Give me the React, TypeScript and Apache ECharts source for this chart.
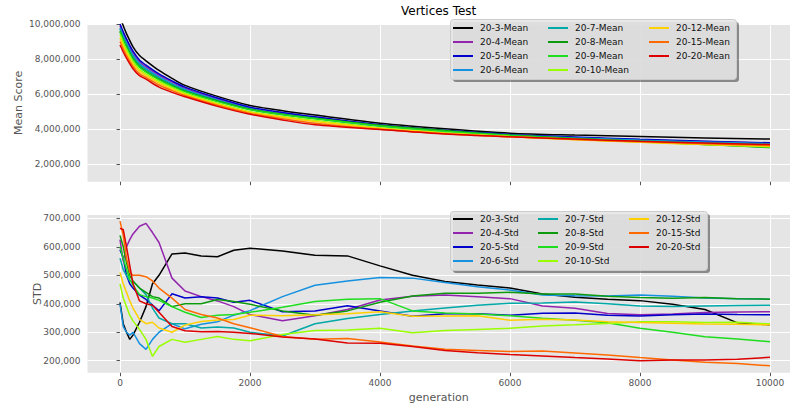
import React, { useEffect, useRef } from "react";
import * as echarts from "echarts";

const seriesKeys = ["20-3", "20-4", "20-5", "20-6", "20-7", "20-8", "20-9", "20-10", "20-12", "20-15", "20-20"];
const seriesColors = ["#000000", "#9224ae", "#0000cc", "#1591e0", "#00a8a8", "#0d9a0d", "#1edd1e", "#99ff00", "#ffd000", "#ff6a00", "#dd0000"];

const xTicks = [0, 2000, 4000, 6000, 8000, 10000];
const meanTicks = [2000000, 4000000, 6000000, 8000000, 10000000];
const stdTicks = [200000, 300000, 400000, 500000, 600000, 700000];

// Mean score (millions)
const meanGens = [0, 50, 100, 200, 300, 400, 600, 800, 1000, 1500, 2000, 2500, 3000, 4000, 5000, 6000, 7000, 8000, 9000, 10000];
const mean20_3 = [10.4, 9.9, 9.45, 8.7, 8.2, 7.9, 7.35, 6.9, 6.5, 5.87, 5.35, 5.05, 4.8, 4.34, 4.02, 3.77, 3.66, 3.58, 3.5, 3.43];
const mean20_4 = [9.9, 9.45, 9.05, 8.35, 7.85, 7.55, 7.07, 6.68, 6.33, 5.72, 5.2, 4.9, 4.66, 4.22, 3.9, 3.68, 3.52, 3.39, 3.29, 3.2];
const mean20_5 = [10.0, 9.55, 9.15, 8.45, 7.95, 7.65, 7.15, 6.75, 6.4, 5.78, 5.25, 4.95, 4.7, 4.25, 3.93, 3.7, 3.55, 3.42, 3.31, 3.22];
const mean20_6 = [9.78, 9.32, 8.92, 8.22, 7.74, 7.45, 6.98, 6.6, 6.26, 5.66, 5.16, 4.86, 4.62, 4.19, 3.87, 3.66, 3.5, 3.37, 3.26, 3.17];
const mean20_7 = [9.72, 9.25, 8.85, 8.15, 7.68, 7.4, 6.93, 6.55, 6.22, 5.63, 5.13, 4.83, 4.6, 4.17, 3.85, 3.64, 3.48, 3.35, 3.23, 3.14];
const mean20_8 = [9.6, 9.12, 8.72, 8.03, 7.58, 7.3, 6.85, 6.48, 6.16, 5.6, 5.14, 4.85, 4.62, 4.22, 3.92, 3.66, 3.47, 3.3, 3.12, 2.95];
const mean20_9 = [9.55, 9.07, 8.67, 7.98, 7.53, 7.26, 6.81, 6.45, 6.13, 5.57, 5.11, 4.82, 4.59, 4.18, 3.88, 3.63, 3.45, 3.3, 3.13, 2.97];
const mean20_10 = [9.4, 8.92, 8.52, 7.85, 7.4, 7.15, 6.72, 6.37, 6.05, 5.48, 5.0, 4.72, 4.5, 4.08, 3.8, 3.58, 3.42, 3.26, 3.12, 3.0];
const mean20_12 = [9.2, 8.75, 8.36, 7.72, 7.3, 7.05, 6.63, 6.28, 5.98, 5.42, 4.96, 4.68, 4.44, 4.05, 3.77, 3.56, 3.4, 3.25, 3.13, 3.03];
const mean20_15 = [9.0, 8.58, 8.2, 7.58, 7.17, 6.95, 6.52, 6.2, 5.92, 5.36, 4.9, 4.6, 4.34, 4.0, 3.74, 3.57, 3.41, 3.28, 3.16, 3.07];
const mean20_20 = [8.8, 8.4, 8.05, 7.45, 7.05, 6.85, 6.4, 6.1, 5.85, 5.3, 4.85, 4.52, 4.25, 3.98, 3.72, 3.56, 3.43, 3.31, 3.21, 3.12];

// STD (thousands)
const stdGens = [0, 50, 100, 150, 200, 300, 400, 500, 600, 800, 1000, 1250, 1500, 1750, 2000, 2500, 3000, 3500, 4000, 4500, 5000, 5500, 6000, 6500, 7000, 7500, 8000, 8500, 9000, 9500, 10000];
const std20_3 = [405, 330, 300, 275, 290, 335, 390, 470, 500, 575, 578, 568, 565, 588, 595, 585, 570, 568, 533, 500, 478, 466, 455, 434, 423, 416, 411, 398, 380, 333, 326];
const std20_4 = [625, 550, 600, 625, 645, 672, 682, 650, 615, 490, 445, 425, 410, 390, 362, 340, 358, 380, 413, 426, 431, 425, 418, 392, 384, 366, 361, 364, 369, 371, 372];
const std20_5 = [590, 560, 500, 470, 455, 430, 415, 395, 375, 435, 420, 425, 420, 405, 412, 372, 375, 393, 375, 356, 365, 365, 360, 367, 368, 360, 357, 361, 364, 362, 361];
const std20_6 = [400, 320, 300, 290, 300, 260, 240, 275, 300, 330, 312, 328, 337, 360, 376, 425, 465, 480, 492, 490, 475, 460, 448, 431, 428, 427, 431, 426, 420, 418, 416];
const std20_7 = [560, 520, 500, 480, 478, 455, 432, 385, 350, 330, 330, 315, 318, 315, 300, 287, 330, 348, 362, 375, 385, 395, 402, 403, 406, 400, 392, 390, 392, 394, 395];
const std20_8 = [640, 600, 545, 500, 480, 455, 440, 425, 420, 390, 400, 400, 415, 408, 398, 375, 360, 375, 405, 427, 437, 437, 440, 434, 434, 426, 422, 419, 422, 418, 416];
const std20_9 = [600, 560, 520, 485, 465, 432, 425, 420, 412, 390, 370, 352, 360, 362, 370, 388, 408, 416, 418, 375, 368, 364, 358, 349, 342, 333, 314, 300, 284, 276, 267];
const std20_10 = [470, 420, 390, 360, 340, 310, 275, 215, 250, 275, 265, 275, 285, 275, 270, 292, 306, 308, 314, 298, 306, 310, 314, 322, 326, 331, 337, 337, 334, 335, 329];
const std20_12 = [510, 470, 440, 410, 385, 345, 330, 335, 315, 300, 325, 338, 343, 345, 360, 358, 361, 365, 372, 356, 357, 358, 342, 346, 343, 337, 334, 332, 329, 328, 326];
const std20_15 = [690, 640, 560, 510, 500, 500, 495, 480, 455, 420, 380, 362, 350, 330, 316, 285, 275, 278, 266, 252, 240, 236, 232, 234, 227, 220, 211, 203, 195, 190, 182];
const std20_20 = [665, 660, 600, 535, 470, 410, 400, 395, 370, 320, 305, 302, 303, 300, 296, 283, 276, 262, 261, 250, 236, 228, 222, 217, 211, 206, 200, 203, 203, 205, 212];

const meanSets = [mean20_3, mean20_4, mean20_5, mean20_6, mean20_7, mean20_8, mean20_9, mean20_10, mean20_12, mean20_15, mean20_20];
const stdSets = [std20_3, std20_4, std20_5, std20_6, std20_7, std20_8, std20_9, std20_10, std20_12, std20_15, std20_20];

const FONT = "DejaVu Sans";
const fmt = (v: number) => Math.round(v).toLocaleString("en-US");

function xAxisCfg(gridIndex: number, showLabels: boolean, name: string) {
  return {
    type: "value",
    gridIndex,
    min: -500,
    max: 10308,
    name,
    nameLocation: "middle",
    nameGap: 19,
    nameMoveOverlap: false,
    nameTextStyle: { color: "#555555", fontSize: 11, fontFamily: FONT },
    axisLine: { show: false },
    axisTick: { show: true, length: 3.5, lineStyle: { color: "#555555" }, customValues: xTicks },
    axisLabel: { show: showLabels, customValues: xTicks, color: "#555555", fontSize: 9, fontFamily: FONT, margin: 6, formatter: (v: number) => String(v) },
    splitLine: { show: true, lineStyle: { color: "#ffffff", width: 1 } },
  };
}

function yAxisCfg(gridIndex: number, min: number, max: number, ticks: number[], name: string, gap: number) {
  return {
    type: "value",
    gridIndex,
    min,
    max,
    name,
    nameLocation: "middle",
    nameGap: gap,
    nameMoveOverlap: false,
    nameTextStyle: { color: "#555555", fontSize: 11, fontFamily: FONT },
    axisLine: { show: false },
    axisTick: { show: true, length: 3.5, lineStyle: { color: "#555555" }, customValues: ticks },
    axisLabel: { show: true, customValues: ticks, color: "#555555", fontSize: 9, fontFamily: FONT, margin: 7, formatter: (v: number) => fmt(v) },
    splitLine: { show: true, lineStyle: { color: "#ffffff", width: 1 } },
  };
}

function legendCol(names: string[], left: number, top: number) {
  return {
    orient: "vertical",
    left,
    top,
    padding: 0,
    icon: "rect",
    itemWidth: 20,
    itemHeight: 2,
    itemGap: 4,
    selectedMode: false,
    z: 20,
    data: names,
    textStyle: { fontSize: 9, color: "#111111", fontFamily: FONT, lineHeight: 10, padding: [0, 0, 0, 2] },
  };
}

export default function App() {
  const ref = useRef<HTMLDivElement>(null);
  useEffect(() => {
    const chart = echarts.init(ref.current!, null, { renderer: "svg" });
    const series: any[] = [];
    seriesKeys.forEach((k, i) => {
      series.push({
        name: k + "-Mean",
        type: "line",
        xAxisIndex: 0,
        yAxisIndex: 0,
        showSymbol: false,
        symbol: "none",
        smooth: 0.3,
        color: seriesColors[i],
        lineStyle: { width: 1.5, color: seriesColors[i] },
        data: meanGens.map((g, j) => [g, meanSets[i][j] * 1e6]),
      });
    });
    seriesKeys.forEach((k, i) => {
      series.push({
        name: k + "-Std",
        type: "line",
        xAxisIndex: 1,
        yAxisIndex: 1,
        showSymbol: false,
        symbol: "none",
        color: seriesColors[i],
        lineStyle: { width: 1.5, color: seriesColors[i] },
        data: stdGens.map((g, j) => [g, stdSets[i][j] * 1000]),
      });
    });
    const m = seriesKeys.map((k) => k + "-Mean");
    const s = seriesKeys.map((k) => k + "-Std");
    const option: any = {
      animation: false,
      textStyle: { fontFamily: FONT },
      title: {
        text: "Vertices Test",
        left: 401,
        top: 5,
        padding: 0,
        textStyle: { fontSize: 12, fontWeight: "normal", color: "#000000", fontFamily: FONT },
      },
      grid: [
        { left: 87.5, right: 1, top: 24, height: 157.7, show: true, backgroundColor: "#e5e5e5", borderWidth: 0, containLabel: false },
        { left: 87.5, right: 1, top: 215, height: 157.7, show: true, backgroundColor: "#e5e5e5", borderWidth: 0, containLabel: false },
      ],
      xAxis: [xAxisCfg(0, false, ""), xAxisCfg(1, true, "generation")],
      yAxis: [
        yAxisCfg(0, 1000000, 10000000, meanTicks, "Mean Score", 64),
        yAxisCfg(1, 158000, 711600, stdTicks, "STD", 45),
      ],
      legend: [
        legendCol(m.slice(0, 4), 453, 23),
        legendCol(m.slice(4, 8), 548, 23),
        legendCol(m.slice(8), 649, 23),
        legendCol(s.slice(0, 4), 453, 214),
        legendCol(s.slice(4, 8), 538, 214),
        legendCol(s.slice(8), 629, 214),
      ],
      graphic: [
        { type: "rect", z: 10, shape: { x: 453, y: 22, width: 286, height: 60, r: 3 }, style: { fill: "rgba(0,0,0,0.4)" } },
        { type: "rect", z: 11, shape: { x: 450.5, y: 19.5, width: 286, height: 60, r: 3 }, style: { fill: "rgba(229,229,229,0.9)", stroke: "#cccccc", lineWidth: 1 } },
        { type: "rect", z: 10, shape: { x: 453, y: 214, width: 257, height: 59, r: 3 }, style: { fill: "rgba(0,0,0,0.4)" } },
        { type: "rect", z: 11, shape: { x: 450.5, y: 211.5, width: 257, height: 59, r: 3 }, style: { fill: "rgba(229,229,229,0.9)", stroke: "#cccccc", lineWidth: 1 } },
      ],
      series,
    };
    chart.setOption(option);
    return () => chart.dispose();
  }, []);
  return <div ref={ref} style={{ position: "absolute", left: 0, top: 0, width: 791, height: 407 }} />;
}
